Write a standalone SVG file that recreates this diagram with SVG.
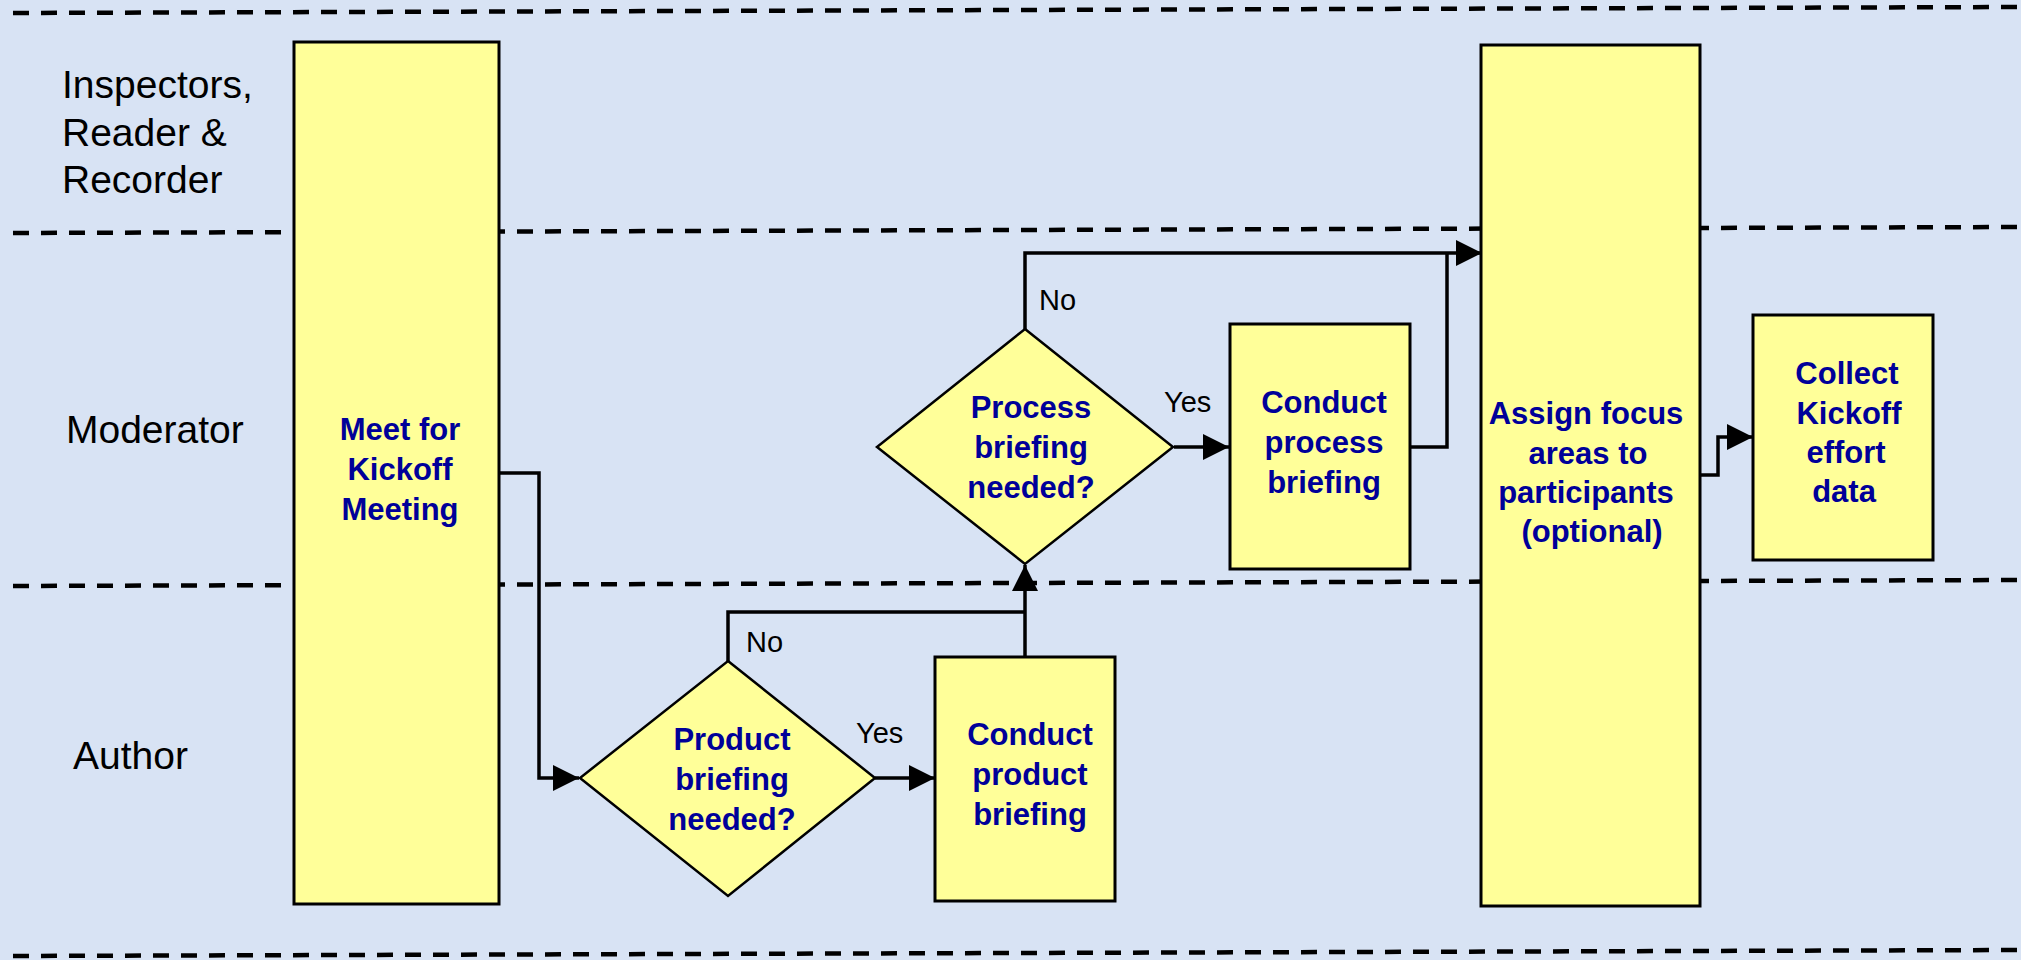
<svg xmlns="http://www.w3.org/2000/svg" width="2021" height="960" viewBox="0 0 2021 960">
<defs>
<style>
.lane{stroke:#000;stroke-width:4.5;stroke-dasharray:16 12;fill:none}
.lbl{font-family:"Liberation Sans",Arial,sans-serif;font-size:39px;fill:#000}
.box{fill:#FFFF99;stroke:#000;stroke-width:3}
.dia{fill:#FFFF99;stroke:#000;stroke-width:2.5}
.nt{font-family:"Liberation Sans",Arial,sans-serif;font-size:31px;font-weight:bold;fill:#000099;text-anchor:middle}
.yn{font-family:"Liberation Sans",Arial,sans-serif;font-size:29px;fill:#000}
.con{stroke:#000;stroke-width:3.5;fill:none}
</style>
<marker id="arr" viewBox="0 0 26 26" refX="26" refY="13" markerWidth="26" markerHeight="26" markerUnits="userSpaceOnUse" orient="auto">
<path d="M0,0 L26,13 L0,26 Z" fill="#000"/>
</marker>
</defs>
<rect x="0" y="0" width="2021" height="960" fill="#D8E3F4"/>
<g id="lanes">
<line class="lane" x1="13" y1="13" x2="2021" y2="7"/>
<line class="lane" x1="13" y1="233" x2="2021" y2="227"/>
<line class="lane" x1="13" y1="586" x2="2021" y2="580"/>
<line class="lane" x1="13" y1="956" x2="2021" y2="950"/>
<text class="lbl" x="62" y="98">Inspectors,</text>
<text class="lbl" x="62" y="145.5">Reader &amp;</text>
<text class="lbl" x="62" y="193">Recorder</text>
<text class="lbl" x="66" y="443">Moderator</text>
<text class="lbl" x="73" y="769">Author</text>
</g>
<g id="connectors">
<path class="con" d="M499,473 H539 V778 H579" marker-end="url(#arr)"/>
<path class="con" d="M875,778 H935" marker-end="url(#arr)"/>
<path class="con" d="M728,661 V612 H1025"/>
<path class="con" d="M1025,657 V565" marker-end="url(#arr)"/>
<path class="con" d="M1174,447 H1229" marker-end="url(#arr)"/>
<path class="con" d="M1025,329 V253 H1482" marker-end="url(#arr)"/>
<path class="con" d="M1410,447 H1447 V253"/>
<path class="con" d="M1700,475 H1718 V437 H1753" marker-end="url(#arr)"/>
<text class="yn" x="746" y="652">No</text>
<text class="yn" x="856" y="743">Yes</text>
<text class="yn" x="1039" y="310">No</text>
<text class="yn" x="1164" y="412">Yes</text>
</g>
<g id="meet">
<rect class="box" x="294" y="42" width="205" height="862"/>
<text class="nt" x="400" y="440">Meet for</text>
<text class="nt" x="400" y="480">Kickoff</text>
<text class="nt" x="400" y="520">Meeting</text>
</g>
<g id="product-decision">
<polygon class="dia" points="728,661 875,778 728,896 580,778"/>
<text class="nt" x="732" y="750">Product</text>
<text class="nt" x="732" y="790">briefing</text>
<text class="nt" x="732" y="830">needed?</text>
</g>
<g id="conduct-product">
<rect class="box" x="935" y="657" width="180" height="244"/>
<text class="nt" x="1030" y="745">Conduct</text>
<text class="nt" x="1030" y="785">product</text>
<text class="nt" x="1030" y="825">briefing</text>
</g>
<g id="process-decision">
<polygon class="dia" points="1025,329 1173,447 1025,564 877,447"/>
<text class="nt" x="1031" y="418">Process</text>
<text class="nt" x="1031" y="458">briefing</text>
<text class="nt" x="1031" y="498">needed?</text>
</g>
<g id="conduct-process">
<rect class="box" x="1230" y="324" width="180" height="245"/>
<text class="nt" x="1324" y="413">Conduct</text>
<text class="nt" x="1324" y="453">process</text>
<text class="nt" x="1324" y="493">briefing</text>
</g>
<g id="assign">
<rect class="box" x="1481" y="45" width="219" height="861"/>
<text class="nt" x="1586" y="424">Assign focus</text>
<text class="nt" x="1588" y="464">areas to</text>
<text class="nt" x="1586" y="503">participants</text>
<text class="nt" x="1592" y="542">(optional)</text>
</g>
<g id="collect">
<rect class="box" x="1753" y="315" width="180" height="245"/>
<text class="nt" x="1847" y="384">Collect</text>
<text class="nt" x="1849" y="424">Kickoff</text>
<text class="nt" x="1846" y="463">effort</text>
<text class="nt" x="1844" y="502">data</text>
</g>
</svg>
